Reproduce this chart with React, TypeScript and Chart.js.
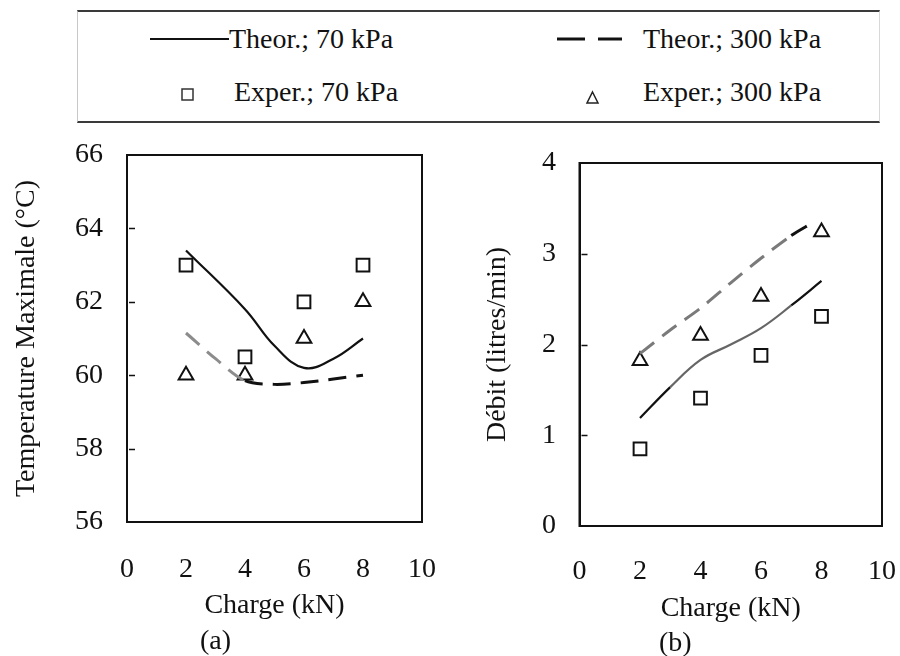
import React, { useEffect, useRef } from "react";
import { Chart, registerables } from "chart.js";

Chart.register(...registerables);

const FONT = '"Liberation Serif", "Times New Roman", Times, serif';
const INK = "#111111";

// Shared x-axis (Charge, kN)
const xTickValues = [0, 2, 4, 6, 8, 10];
const expCharge = [2, 4, 6, 8];

// Panel (a): Température maximale (°C)
const tempYTicks = [56, 58, 60, 62, 64, 66];
const tempTheor70X = [2, 4, 5, 6, 7, 8];
const tempTheor70Y = [63.4, 61.8, 60.8, 60.2, 60.45, 61.0];
const tempTheor300X = [2, 3, 4, 5, 6, 8];
const tempTheor300Y = [61.15, 60.45, 59.85, 59.75, 59.8, 60.0];
const tempExper70 = [63, 60.5, 62, 63];
const tempExper300 = [60, 60, 61, 62];

// Panel (b): Débit (litres/min)
const debitYTicks = [0, 1, 2, 3, 4];
const debitTheor70X = [2, 3, 4, 5, 6, 7, 8];
const debitTheor70Y = [1.19, 1.53, 1.83, 2.0, 2.18, 2.43, 2.7];
const debitTheor300X = [2, 3, 4, 5, 6, 7, 7.7];
const debitTheor300Y = [1.9, 2.16, 2.4, 2.68, 2.95, 3.2, 3.34];
const debitExper70 = [0.85, 1.41, 1.88, 2.31];
const debitExper300 = [1.82, 2.1, 2.53, 3.24];

const legendLabels = ["Theor.; 70 kPa", "Theor.; 300 kPa", "Exper.; 70 kPa", "Exper.; 300 kPa"];

const TICK_SIZE = 28;
const TITLE_SIZE = 28;

const zip = (xs: number[], ys: number[]) => xs.map((x, i) => ({ x, y: ys[i] }));

// Draws the full frame around the plot area plus short inward tick marks on the y axis
const boxPlugin = {
  id: "plotBox",
  beforeDatasetsDraw(chart: any) {
    const { ctx, chartArea: a } = chart;
    const yScale = chart.scales.y;
    ctx.save();
    ctx.strokeStyle = INK;
    ctx.lineWidth = 2;
    ctx.strokeRect(a.left, a.top, a.right - a.left, a.bottom - a.top);
    ctx.lineWidth = 1.5;
    ctx.beginPath();
    yScale.ticks.forEach((t: any) => {
      if (t.value === yScale.min || t.value === yScale.max) return;
      const py = Math.round(yScale.getPixelForValue(t.value)) + 0.5;
      ctx.moveTo(a.left + 2, py);
      ctx.lineTo(a.left + 8, py);
    });
    ctx.stroke();
    ctx.restore();
  },
};

type PanelCfg = {
  yTitle: string;
  yMin: number;
  yMax: number;
  yTicks: number[];
  theor70: { x: number; y: number }[];
  theor300: { x: number; y: number }[];
  exper70: { x: number; y: number }[];
  exper300: { x: number; y: number }[];
  pad: { top: number; right: number };
  yWidth: number;
  yTickPad: number;
  yTitlePad: number;
  xHeight: number;
  xTickPad: number;
  xTitlePad: number;
  solidColor: (c: any) => string;
  dashColor: (c: any) => string;
};

function buildConfig(p: PanelCfg): any {
  return {
    type: "scatter",
    data: {
      datasets: [
        {
          label: legendLabels[0],
          data: p.theor70,
          showLine: true,
          pointRadius: 0,
          borderColor: INK,
          borderWidth: 2.2,
          tension: 0.4,
          segment: { borderColor: p.solidColor },
        },
        {
          label: legendLabels[1],
          data: p.theor300,
          showLine: true,
          pointRadius: 0,
          borderColor: INK,
          borderWidth: 3,
          borderDash: [18, 10],
          tension: 0.3,
          segment: { borderColor: p.dashColor },
        },
        {
          label: legendLabels[2],
          data: p.exper70,
          pointStyle: "rect",
          pointRadius: 9,
          pointBorderWidth: 2,
          pointBorderColor: INK,
          pointBackgroundColor: "rgba(255,255,255,0)",
        },
        {
          label: legendLabels[3],
          data: p.exper300,
          pointStyle: "triangle",
          pointRadius: 8.5,
          pointBorderWidth: 2,
          pointBorderColor: INK,
          pointBackgroundColor: "rgba(255,255,255,0)",
        },
      ],
    },
    options: {
      animation: false,
      responsive: false,
      maintainAspectRatio: false,
      layout: { padding: { left: 0, top: p.pad.top, right: p.pad.right, bottom: 0 } },
      plugins: { legend: { display: false }, tooltip: { enabled: false } },
      scales: {
        x: {
          type: "linear",
          min: 0,
          max: 10,
          afterBuildTicks: (s: any) => {
            s.ticks = xTickValues.map((v) => ({ value: v }));
          },
          afterFit: (s: any) => {
            s.height = p.xHeight;
            s.paddingLeft = 0;
            s.paddingRight = 0;
          },
          grid: { display: false, drawTicks: false },
          border: { display: true, color: INK, width: 2 },
          ticks: {
            padding: p.xTickPad,
            color: INK,
            font: { family: FONT, size: TICK_SIZE },
            maxRotation: 0,
            autoSkip: false,
          },
          title: {
            display: true,
            text: "Charge (kN)",
            color: INK,
            font: { family: FONT, size: TITLE_SIZE },
            padding: { top: 0, bottom: p.xTitlePad },
          },
        },
        y: {
          type: "linear",
          min: p.yMin,
          max: p.yMax,
          afterBuildTicks: (s: any) => {
            s.ticks = p.yTicks.map((v) => ({ value: v }));
          },
          afterFit: (s: any) => {
            s.width = p.yWidth;
            s.paddingTop = 0;
            s.paddingBottom = 0;
          },
          grid: { display: false, drawTicks: false },
          border: { display: true, color: INK, width: 2 },
          ticks: {
            padding: p.yTickPad,
            color: INK,
            font: { family: FONT, size: TICK_SIZE },
          },
          title: {
            display: true,
            text: p.yTitle,
            color: INK,
            font: { family: FONT, size: TITLE_SIZE },
            padding: { top: p.yTitlePad, bottom: 0 },
          },
        },
      },
    },
    plugins: [boxPlugin],
  };
}

function Panel({ cfg, left }: { cfg: PanelCfg; left: number }) {
  const ref = useRef<HTMLCanvasElement | null>(null);
  useEffect(() => {
    if (!ref.current) return;
    const chart = new Chart(ref.current, buildConfig(cfg));
    return () => chart.destroy();
  }, []);
  return (
    <canvas
      ref={ref}
      width={450}
      height={526}
      style={{ position: "absolute", left, top: 130, width: 450, height: 526 }}
    />
  );
}

const panelA: PanelCfg = {
  yTitle: "Temperature Maximale (°C)",
  yMin: 56,
  yMax: 66,
  yTicks: tempYTicks,
  theor70: zip(tempTheor70X, tempTheor70Y),
  theor300: zip(tempTheor300X, tempTheor300Y),
  exper70: zip(expCharge, tempExper70),
  exper300: zip(expCharge, tempExper300),
  pad: { top: 25, right: 28 },
  yWidth: 127,
  yTickPad: 24,
  yTitlePad: 10,
  xHeight: 134,
  xTickPad: 31,
  xTitlePad: 34,
  solidColor: () => INK,
  dashColor: (c: any) => (c.p0.parsed.x < 3.9 ? "#8c8c8c" : INK),
};

const panelB: PanelCfg = {
  yTitle: "Débit (litres/min)",
  yMin: 0,
  yMax: 4,
  yTicks: debitYTicks,
  theor70: zip(debitTheor70X, debitTheor70Y),
  theor300: zip(debitTheor300X, debitTheor300Y),
  exper70: zip(expCharge, debitExper70),
  exper300: zip(expCharge, debitExper300),
  pad: { top: 33, right: 18 },
  yWidth: 129.5,
  yTickPad: 23.5,
  yTitlePad: 31,
  xHeight: 130,
  xTickPad: 29,
  xTitlePad: 31,
  solidColor: (c: any) => (c.p0.parsed.x < 2.9 || c.p1.parsed.x > 7.5 ? INK : "#666666"),
  dashColor: (c: any) => (c.p0.parsed.x < 6.5 ? "#7a7a7a" : INK),
};

const textStyle = (left: number, cy: number): React.CSSProperties => ({
  position: "absolute",
  left,
  top: cy - 17,
  height: 34,
  lineHeight: "34px",
  fontFamily: FONT,
  fontSize: 28,
  color: INK,
  whiteSpace: "nowrap",
});

function Legend() {
  return (
    <div style={{ position: "absolute", left: 0, top: 0, width: 900, height: 130 }}>
      <div
        style={{
          position: "absolute",
          left: 77,
          top: 10,
          width: 803,
          height: 113,
          borderTop: "2px solid #3a3a3a",
          borderBottom: "2px solid #3a3a3a",
          borderLeft: "1px solid #c8c8c8",
          borderRight: "1px solid #d8d8d8",
          boxSizing: "border-box",
        }}
      />
      <svg style={{ position: "absolute", left: 150, top: 33 }} width={80} height={12}>
        <line x1={0} y1={6} x2={79} y2={6} stroke={INK} strokeWidth={2} />
      </svg>
      <div style={textStyle(229, 39)}>{legendLabels[0]}</div>
      <svg style={{ position: "absolute", left: 556, top: 33 }} width={68} height={12}>
        <line x1={1} y1={6} x2={29} y2={6} stroke={INK} strokeWidth={3} />
        <line x1={42} y1={6} x2={66} y2={6} stroke={INK} strokeWidth={3} />
      </svg>
      <div style={textStyle(643, 39)}>{legendLabels[1]}</div>
      <svg style={{ position: "absolute", left: 180, top: 87 }} width={16} height={16}>
        <rect x={2} y={2} width={11} height={11} fill="none" stroke="#333" strokeWidth={1.5} />
      </svg>
      <div style={textStyle(234, 92)}>{legendLabels[2]}</div>
      <svg style={{ position: "absolute", left: 585, top: 90 }} width={16} height={16}>
        <polygon points="7.5,2 13,13 2,13" fill="none" stroke="#222" strokeWidth={1.5} />
      </svg>
      <div style={textStyle(643, 92)}>{legendLabels[3]}</div>
    </div>
  );
}

export default function App() {
  return (
    <div
      style={{
        position: "fixed",
        left: 0,
        top: 0,
        width: 900,
        height: 656,
        background: "#ffffff",
        overflow: "hidden",
      }}
    >
      <Legend />
      <Panel cfg={panelA} left={0} />
      <Panel cfg={panelB} left={450} />
      <div style={textStyle(200, 640)}>(a)</div>
      <div style={textStyle(659, 642)}>(b)</div>
    </div>
  );
}
